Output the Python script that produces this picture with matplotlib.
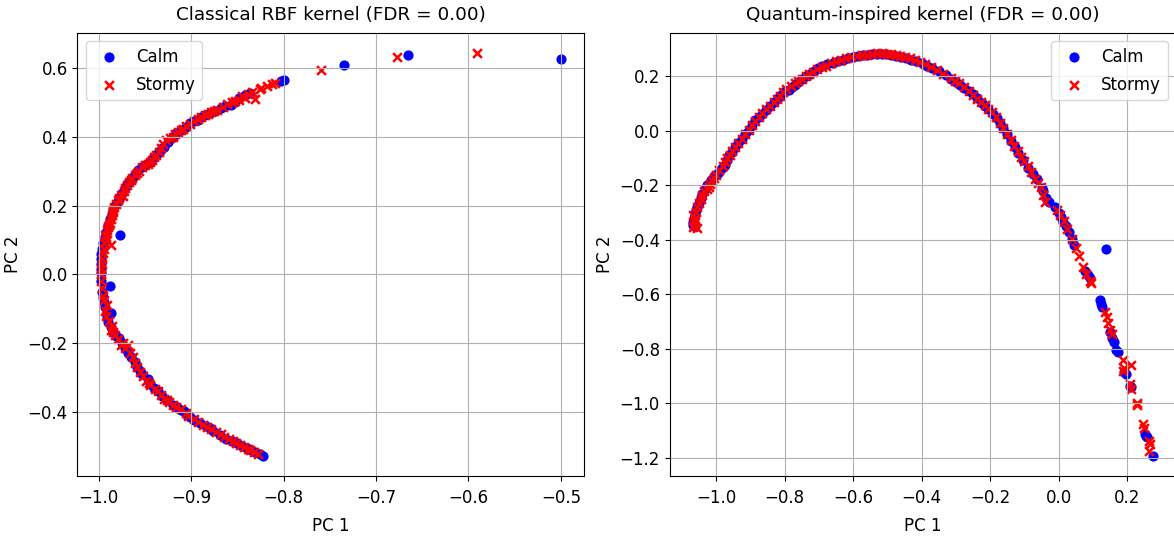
import matplotlib
matplotlib.use("Agg")
import matplotlib.pyplot as plt

plt.rcParams['font.family'] = ['DejaVu Sans']

# Classical RBF kernel - PCA projection
rbf_calm_x = [-0.500, -0.665, -0.735, -0.799, -0.836, -0.848, -0.857, -0.868, -0.880, -0.889,
              -0.897, -0.906, -0.916, -0.925, -0.929, -0.934, -0.941, -0.950, -0.957, -0.963,
              -0.969, -0.975, -0.979, -0.984, -0.988, -0.977, -0.992, -0.995, -0.997, -0.998,
              -0.998, -0.988, -0.996, -0.994, -0.987, -0.990, -0.984, -0.978, -0.971, -0.965,
              -0.958, -0.953, -0.947, -0.940, -0.932, -0.920, -0.911, -0.905, -0.897, -0.884,
              -0.876, -0.862, -0.850, -0.840, -0.831, -0.822,
              -0.803, -0.842, -0.853, -0.863, -0.874, -0.885, -0.893, -0.901, -0.911, -0.920,
              -0.931, -0.936, -0.944, -0.953, -0.960, -0.966, -0.972, -0.977, -0.981, -0.986,
              -0.990, -0.993, -0.996, -0.998, -0.998, -0.997, -0.995, -0.993, -0.991, -0.987,
              -0.981, -0.975, -0.968, -0.961, -0.955, -0.944, -0.936, -0.926, -0.915, -0.908,
              -0.901, -0.890, -0.880, -0.869, -0.856, -0.845, -0.835, -0.826]
rbf_calm_y = [0.625, 0.637, 0.608, 0.565, 0.526, 0.512, 0.491, 0.483, 0.468, 0.457,
              0.447, 0.428, 0.412, 0.385, 0.371, 0.360, 0.338, 0.318, 0.302, 0.284,
              0.262, 0.236, 0.214, 0.190, 0.162, 0.116, 0.124, 0.090, 0.058, 0.030,
              0.004, -0.034, -0.050, -0.080, -0.111, -0.138, -0.166, -0.186, -0.214, -0.240,
              -0.268, -0.290, -0.303, -0.330, -0.352, -0.378, -0.393, -0.405, -0.423, -0.439,
              -0.455, -0.477, -0.490, -0.505, -0.517, -0.527,
              0.562, 0.520, 0.500, 0.488, 0.476, 0.462, 0.450, 0.440, 0.420, 0.398,
              0.366, 0.352, 0.328, 0.312, 0.295, 0.272, 0.250, 0.225, 0.204, 0.176,
              0.145, 0.108, 0.075, 0.044, 0.015, -0.020, -0.065, -0.095, -0.125, -0.152,
              -0.178, -0.200, -0.228, -0.255, -0.280, -0.318, -0.340, -0.365, -0.385, -0.398,
              -0.415, -0.432, -0.446, -0.466, -0.484, -0.497, -0.511, -0.522]

rbf_stormy_x = [-0.591, -0.677, -0.759, -0.809, -0.813, -0.824, -0.825, -0.831, -0.838, -0.845,
                -0.852, -0.861, -0.872, -0.878, -0.885, -0.893, -0.901, -0.909, -0.914, -0.920,
                -0.927, -0.933, -0.938, -0.942, -0.947, -0.953, -0.959, -0.964, -0.967, -0.972,
                -0.974, -0.978, -0.981, -0.985, -0.986, -0.988, -0.990, -0.992, -0.987, -0.994,
                -0.996, -0.997, -0.997, -0.995, -0.991, -0.992, -0.986, -0.982, -0.974, -0.968,
                -0.966, -0.961, -0.955, -0.949, -0.944, -0.936, -0.929, -0.924, -0.916, -0.903,
                -0.893, -0.887, -0.879, -0.868, -0.864, -0.855, -0.847, -0.843, -0.836, -0.828,
                -0.818, -0.834, -0.842, -0.848, -0.856, -0.866, -0.875, -0.882, -0.889, -0.897,
                -0.905, -0.911, -0.917, -0.923, -0.930, -0.935, -0.940, -0.945, -0.950, -0.956,
                -0.961, -0.965, -0.969, -0.973, -0.976, -0.979, -0.983, -0.984, -0.987, -0.989,
                -0.991, -0.993, -0.991, -0.994, -0.995, -0.996, -0.997, -0.996, -0.994, -0.993,
                -0.989, -0.987, -0.984, -0.979, -0.976, -0.971, -0.963, -0.958, -0.952, -0.946,
                -0.939, -0.933, -0.926, -0.920, -0.911, -0.906, -0.897, -0.883, -0.873, -0.859,
                -0.851, -0.839, -0.832]
rbf_stormy_y = [0.644, 0.633, 0.593, 0.556, 0.553, 0.543, 0.538, 0.510, 0.523, 0.517,
                0.505, 0.496, 0.478, 0.472, 0.462, 0.452, 0.438, 0.422, 0.415, 0.400,
                0.392, 0.366, 0.348, 0.333, 0.322, 0.312, 0.294, 0.280, 0.268, 0.250,
                0.228, 0.222, 0.205, 0.186, 0.172, 0.150, 0.138, 0.108, 0.085, 0.075,
                0.046, 0.016, -0.020, -0.062, -0.090, -0.122, -0.150, -0.176, -0.198, -0.205,
                -0.228, -0.256, -0.282, -0.309, -0.322, -0.340, -0.362, -0.370, -0.385, -0.412,
                -0.428, -0.436, -0.450, -0.465, -0.472, -0.485, -0.496, -0.501, -0.511, -0.522,
                0.548, 0.530, 0.513, 0.508, 0.500, 0.486, 0.474, 0.466, 0.457, 0.445,
                0.430, 0.420, 0.408, 0.396, 0.380, 0.356, 0.342, 0.328, 0.318, 0.300,
                0.288, 0.275, 0.260, 0.242, 0.232, 0.215, 0.196, 0.180, 0.162, 0.145,
                0.128, 0.115, 0.100, 0.092, 0.062, 0.030, 0.000, -0.040, -0.075, -0.105,
                -0.135, -0.160, -0.168, -0.188, -0.205, -0.215, -0.240, -0.268, -0.295, -0.315,
                -0.333, -0.350, -0.366, -0.378, -0.392, -0.402, -0.420, -0.443, -0.458, -0.479,
                -0.490, -0.506, -0.516]

# Quantum-inspired kernel - PCA projection
q_calm_x = [-1.068, -1.060, -1.064, -1.058, -1.050, -1.040, -1.025, -1.005, -0.990, -0.975,
            -0.962, -0.945, -0.925, -0.905, -0.885, -0.865, -0.842, -0.820, -0.800, -0.778,
            -0.760, -0.738, -0.715, -0.690, -0.660, -0.630, -0.600, -0.570, -0.545, -0.515,
            -0.490, -0.460, -0.430, -0.400, -0.370, -0.330, -0.300, -0.275, -0.250, -0.225,
            -0.205, -0.180, -0.162, -0.140, -0.118, -0.090, -0.062, -0.045, -0.038, -0.028,
            -0.012, 0.008, 0.012, 0.030, 0.045, 0.138, 0.078, 0.090, 0.120, 0.125,
            0.150, 0.160, 0.168, 0.195, 0.211, 0.253, 0.258, 0.275,
            -1.066, -1.062, -1.054, -1.045, -1.032, -1.015, -0.997, -0.982, -0.968, -0.953,
            -0.935, -0.915, -0.895, -0.875, -0.853, -0.831, -0.810, -0.788, -0.769, -0.748,
            -0.726, -0.703, -0.675, -0.645, -0.615, -0.585, -0.558, -0.530, -0.503, -0.475,
            -0.445, -0.415, -0.385, -0.350, -0.315, -0.288, -0.262, -0.238, -0.215, -0.192,
            -0.171, -0.151, -0.129, -0.104, -0.076, -0.050, 0.000, 0.020, 0.038, 0.084,
            0.122, 0.155, 0.172, 0.190, 0.209, 0.256]
q_calm_y = [-0.345, -0.350, -0.320, -0.290, -0.265, -0.230, -0.200, -0.165, -0.150, -0.125,
            -0.090, -0.060, -0.030, 0.005, 0.040, 0.062, 0.092, 0.122, 0.145, 0.160,
            0.178, 0.200, 0.220, 0.238, 0.250, 0.262, 0.270, 0.278, 0.282, 0.283,
            0.280, 0.272, 0.262, 0.248, 0.232, 0.204, 0.180, 0.156, 0.134, 0.104,
            0.080, 0.048, 0.012, -0.036, -0.080, -0.135, -0.178, -0.220, -0.245, -0.262,
            -0.280, -0.315, -0.335, -0.370, -0.420, -0.432, -0.515, -0.540, -0.620, -0.648,
            -0.740, -0.775, -0.805, -0.892, -0.942, -1.111, -1.125, -1.193,
            -0.335, -0.305, -0.278, -0.248, -0.215, -0.180, -0.158, -0.135, -0.108, -0.078,
            -0.045, -0.012, 0.022, 0.050, 0.078, 0.108, 0.133, 0.152, 0.168, 0.190,
            0.210, 0.230, 0.244, 0.257, 0.266, 0.274, 0.280, 0.284, 0.282, 0.276,
            0.268, 0.255, 0.240, 0.220, 0.192, 0.168, 0.145, 0.120, 0.092, 0.064,
            0.030, -0.012, -0.058, -0.108, -0.158, -0.210, -0.300, -0.350, -0.395, -0.528,
            -0.635, -0.760, -0.812, -0.885, -0.935, -1.120]

q_stormy_x = [-1.067, -1.055, -1.062, -1.066, -1.054, -1.045, -1.034, -1.020, -1.012, -1.000,
              -0.980, -0.968, -0.952, -0.935, -0.915, -0.895, -0.875, -0.855, -0.832, -0.812,
              -0.795, -0.770, -0.750, -0.728, -0.705, -0.680, -0.650, -0.620, -0.590, -0.560,
              -0.530, -0.500, -0.475, -0.448, -0.420, -0.390, -0.355, -0.315, -0.290, -0.262,
              -0.238, -0.215, -0.195, -0.172, -0.150, -0.130, -0.110, -0.100, -0.082, -0.070,
              -0.052, -0.040, -0.005, 0.015, 0.025, 0.040, 0.060, 0.072, 0.080, 0.095,
              0.141, 0.145, 0.150, 0.187, 0.211, 0.187, 0.208, 0.227, 0.245, 0.262, 0.262,
              -1.064, -1.060, -1.058, -1.050, -1.040, -1.027, -1.016, -1.006, -0.990, -0.974,
              -0.960, -0.944, -0.925, -0.905, -0.885, -0.865, -0.843, -0.822, -0.803, -0.782,
              -0.760, -0.738, -0.716, -0.692, -0.665, -0.635, -0.605, -0.575, -0.545, -0.515,
              -0.488, -0.462, -0.435, -0.405, -0.372, -0.338, -0.302, -0.276, -0.250, -0.226,
              -0.205, -0.183, -0.162, -0.140, -0.120, -0.091, -0.060, -0.047, 0.005, 0.050,
              0.090, 0.135, 0.155, 0.190, 0.212, 0.228, 0.250, 0.265]
q_stormy_y = [-0.352, -0.355, -0.335, -0.310, -0.280, -0.250, -0.220, -0.205, -0.185, -0.160,
              -0.130, -0.100, -0.075, -0.045, -0.010, 0.020, 0.050, 0.080, 0.105, 0.130,
              0.155, 0.175, 0.190, 0.208, 0.228, 0.240, 0.258, 0.268, 0.276, 0.280,
              0.287, 0.282, 0.278, 0.270, 0.262, 0.245, 0.222, 0.195, 0.175, 0.148,
              0.118, 0.095, 0.070, 0.030, -0.010, -0.055, -0.095, -0.110, -0.150, -0.175,
              -0.205, -0.260, -0.290, -0.330, -0.360, -0.395, -0.460, -0.500, -0.525, -0.560,
              -0.684, -0.705, -0.730, -0.841, -0.858, -0.880, -0.930, -1.007, -1.077, -1.138, -1.175,
              -0.345, -0.322, -0.296, -0.265, -0.235, -0.212, -0.195, -0.172, -0.145, -0.115,
              -0.088, -0.060, -0.028, 0.005, 0.035, 0.065, 0.092, 0.118, 0.142, 0.165,
              0.182, 0.200, 0.218, 0.235, 0.250, 0.262, 0.272, 0.278, 0.284, 0.286,
              0.281, 0.275, 0.266, 0.254, 0.235, 0.210, 0.185, 0.162, 0.132, 0.108,
              0.082, 0.050, 0.010, -0.032, -0.075, -0.130, -0.190, -0.235, -0.310, -0.430,
              -0.550, -0.665, -0.745, -0.870, -0.948, -1.000, -1.090, -1.150]

titles = ["Classical RBF kernel (FDR = 0.00)", "Quantum-inspired kernel (FDR = 0.00)"]
panels = [(rbf_calm_x, rbf_calm_y, rbf_stormy_x, rbf_stormy_y),
          (q_calm_x, q_calm_y, q_stormy_x, q_stormy_y)]
legend_locs = ["upper left", "upper right"]

fig = plt.figure(figsize=(11.74, 5.42), dpi=100)
ax1 = fig.add_axes([0.066, 0.1218, 0.4314, 0.818])
ax2 = fig.add_axes([0.5704, 0.1218, 0.4313, 0.818])

for ax, (cx, cy, sx, sy), title, loc in zip([ax1, ax2], panels, titles, legend_locs):
    ax.scatter(cx, cy, c='blue', marker='o', s=40, label='Calm')
    ax.scatter(sx, sy, c='red', marker='x', s=40, linewidths=1.8, label='Stormy')
    ax.set_title(title, fontsize=13.2, pad=9)
    ax.set_xlabel("PC 1", fontsize=12, labelpad=7)
    ax.set_ylabel("PC 2", fontsize=12)
    ax.tick_params(labelsize=12)
    ax.tick_params(axis='x', pad=6)
    ax.grid(True)
    ax.legend(loc=loc, fontsize=12, labelspacing=0.6, handletextpad=0.6)

fig.savefig("out.png", dpi=100)
